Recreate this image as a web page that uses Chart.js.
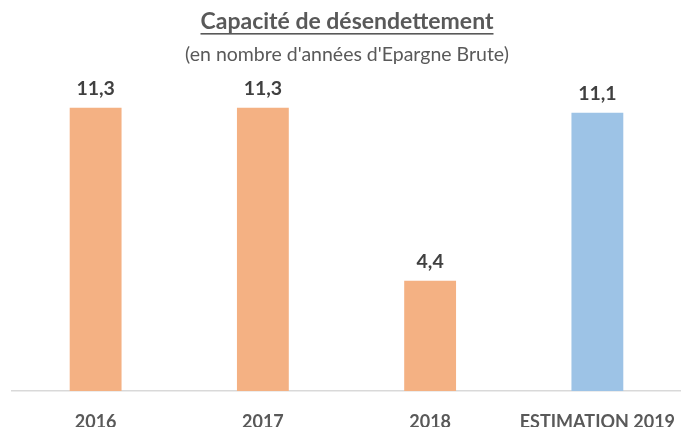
<!DOCTYPE html>
<html>
<head>
<meta charset="utf-8">
<script src="https://cdn.jsdelivr.net/npm/chart.js@4"></script>
<style>
  html, body { margin: 0; padding: 0; background: #fff; }
  #wrap { width: 681px; height: 427px; }
</style>
</head>
<body>
<div id="wrap"><canvas id="chart" width="681" height="427"></canvas></div>
<script>
// Données du graphique
const categories = ['2016', '2017', '2018', 'ESTIMATION 2019'];
const valeurs = [11.3, 11.3, 4.4, 11.1];
const couleurs = ['#F4B183', '#F4B183', '#F4B183', '#9DC3E6'];
const titre = 'Capacité de désendettement';
const sousTitre = "(en nombre d'années d'Epargne Brute)";

const police = 'Lato, "Liberation Sans", sans-serif';

// Titre souligné + étiquettes de valeurs
const plugTextes = {
    id: 'textes',
    afterDraw(chart) {
        const ctx = chart.ctx;
        ctx.save();
        ctx.textAlign = 'center';
        ctx.textBaseline = 'alphabetic';

        // titre
        ctx.fillStyle = '#595959';
        ctx.font = 'bold 23px ' + police;
        const cx = 347;
        ctx.fillText(titre, cx, 29);
        const w = ctx.measureText(titre).width;
        ctx.fillRect(cx - w / 2, 33, w, 1.6);

        // sous-titre
        ctx.font = '19.5px ' + police;
        ctx.fillText(sousTitre, cx, 61);

        // valeurs au-dessus des barres
        ctx.fillStyle = '#404040';
        ctx.font = 'bold 19.5px ' + police;
        const meta = chart.getDatasetMeta(0);
        meta.data.forEach((bar, i) => {
            const txt = valeurs[i].toFixed(1).replace('.', ',');
            ctx.fillText(txt, bar.x, bar.y - 13);
        });
        ctx.restore();
    }
};

new Chart(document.getElementById('chart'), {
    type: 'bar',
    data: {
        labels: categories,
        datasets: [{
            data: valeurs,
            backgroundColor: couleurs,
            borderWidth: 0,
            categoryPercentage: 1,
            barPercentage: 0.31
        }]
    },
    options: {
        responsive: false,
        animation: false,
        layout: { padding: { top: 65, left: 12, right: -3, bottom: 0 } },
        plugins: {
            legend: { display: false },
            tooltip: { enabled: false }
        },
        scales: {
            x: {
                grid: { display: false, drawTicks: false },
                border: { display: true, color: '#D9D9D9', width: 1.5 },
                ticks: {
                    color: '#595959',
                    font: { family: police, size: 18, weight: 'bold' },
                    padding: 20,
                    maxRotation: 0
                },
                afterFit(scale) {
                    scale.height = 36;
                    scale.paddingLeft = 0;
                    scale.paddingRight = 0;
                }
            },
            y: {
                display: false,
                min: 0,
                max: 13
            }
        }
    },
    plugins: [plugTextes]
});
</script>
</body>
</html>
